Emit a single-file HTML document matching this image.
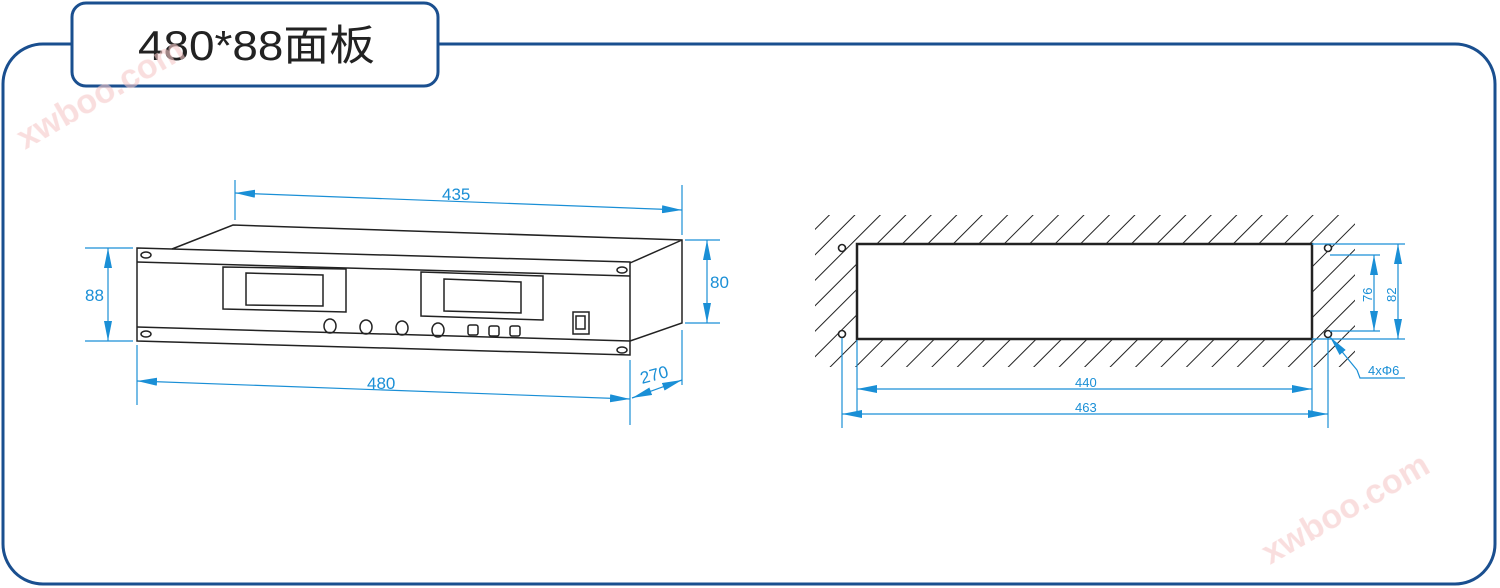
<!DOCTYPE html>
<html><head><meta charset="utf-8"><style>
html,body{margin:0;padding:0;background:#fff;}
svg{display:block;}
text{font-family:"Liberation Sans","Noto Sans CJK SC",sans-serif;}
</style></head><body>
<svg width="1500" height="588" viewBox="0 0 1500 588" xmlns="http://www.w3.org/2000/svg">
<defs>
<marker id="a" viewBox="0 0 20 8" refX="20" refY="4" markerWidth="20" markerHeight="8" markerUnits="userSpaceOnUse" orient="auto-start-reverse"><path d="M0,0L20,4L0,8z" fill="#1a8fd6"/></marker>
<pattern id="h" width="18" height="18" patternUnits="userSpaceOnUse" patternTransform="rotate(45)"><line x1="0" y1="0" x2="0" y2="18" stroke="#222" stroke-width="2"/></pattern>
</defs>
<rect x="3" y="44" width="1492" height="540" rx="40" fill="none" stroke="#1a4f8f" stroke-width="3"/>
<rect x="72" y="3" width="366" height="83" rx="14" fill="#fff" stroke="#1a4f8f" stroke-width="3"/>
<text x="138" y="60" font-size="42" fill="#222" textLength="237" lengthAdjust="spacingAndGlyphs">480*88面板</text>
<g fill="#f6c9c9" font-size="34" font-weight="bold" opacity="0.6">
<text transform="translate(25,150) rotate(-30)">xwboo.com</text>
<text transform="translate(1270,565) rotate(-30)">xwboo.com</text>
</g>
<g fill="none" stroke="#222" stroke-width="1.5">
<path d="M172,249L233,225L682,240L682,323L630,341M682,240L630,263"/>
<path d="M137,248L630,262L630,355L137,341Z"/>
<path d="M137,262L630,276M137,327L630,341"/>
<ellipse cx="146" cy="255" rx="5" ry="3"/><ellipse cx="622" cy="270" rx="5" ry="3"/>
<ellipse cx="146" cy="334" rx="5" ry="3"/><ellipse cx="622" cy="350" rx="5" ry="3"/>
<path d="M223,267L346,269L346,312L223,309Z"/><path d="M246,273L323,275L323,306L246,305Z"/>
<path d="M421,272L543,276L543,320L421,316Z"/><path d="M444,279L521,282L521,313L444,311Z"/>
<ellipse cx="330" cy="326" rx="6" ry="7"/><ellipse cx="366" cy="327" rx="6" ry="7"/>
<ellipse cx="402" cy="328" rx="6" ry="7"/><ellipse cx="438" cy="330" rx="6" ry="7"/>
<rect x="468" y="325" width="10" height="10" rx="2"/><rect x="489" y="326" width="10" height="10" rx="2"/><rect x="510" y="326" width="10" height="10" rx="2"/>
<rect x="573" y="312" width="16" height="22"/><rect x="576" y="316" width="9" height="13"/>
</g>
<g stroke="#1a8fd6" stroke-width="1.2" fill="none">
<path d="M235,180V220M682,185V235M85,248H133M85,341H133M685,240H720M685,323H720M137,345V405M630,360V425M682,330V385"/>
<line x1="235" y1="193" x2="682" y2="210" marker-start="url(#a)" marker-end="url(#a)"/>
<line x1="108" y1="248" x2="108" y2="341" marker-start="url(#a)" marker-end="url(#a)"/>
<line x1="707" y1="240" x2="707" y2="323" marker-start="url(#a)" marker-end="url(#a)"/>
<line x1="137" y1="381" x2="630" y2="399" marker-start="url(#a)" marker-end="url(#a)"/>
<line x1="632" y1="398" x2="682" y2="380" marker-start="url(#a)" marker-end="url(#a)"/>
</g>
<g fill="#1a8fd6" font-size="17">
<text x="442" y="200">435</text>
<text x="85" y="301">88</text>
<text x="710" y="288">80</text>
<text x="367" y="389">480</text>
<text transform="translate(642,384) rotate(-15)">270</text>
</g>
<rect x="815" y="215" width="540" height="152" fill="url(#h)"/>
<rect x="857" y="244" width="455" height="95" fill="#fff" stroke="#222" stroke-width="2.5"/>
<g fill="#fff" stroke="#222" stroke-width="1.6">
<circle cx="842" cy="248" r="3.5"/><circle cx="842" cy="334" r="3.5"/>
<circle cx="1328" cy="248" r="3.5"/><circle cx="1328" cy="334" r="3.5"/>
</g>
<g stroke="#1a8fd6" stroke-width="1.2" fill="none">
<path d="M1312,244H1405M1312,339H1405M1330,255H1380M1330,331H1380M857,340V415M1312,340V415M842,338V428M1328,338V428"/>
<line x1="1374" y1="255" x2="1374" y2="331" marker-start="url(#a)" marker-end="url(#a)"/>
<line x1="1398" y1="244" x2="1398" y2="339" marker-start="url(#a)" marker-end="url(#a)"/>
<line x1="857" y1="389" x2="1312" y2="389" marker-start="url(#a)" marker-end="url(#a)"/>
<line x1="842" y1="414" x2="1328" y2="414" marker-start="url(#a)" marker-end="url(#a)"/>
<path d="M1357,370L1330,337" marker-end="url(#a)"/>
<path d="M1357,370L1360,378H1405"/>
</g>
<g fill="#1a8fd6" font-size="13">
<text x="1075" y="387">440</text>
<text x="1075" y="412">463</text>
<text x="1368" y="375">4xΦ6</text>
<text transform="translate(1372,302) rotate(-90)">76</text>
<text transform="translate(1396,302) rotate(-90)">82</text>
</g>
</svg>
</body></html>
